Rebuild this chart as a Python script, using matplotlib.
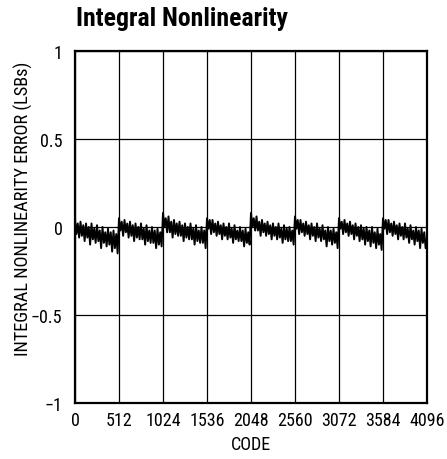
import numpy as np
import matplotlib
matplotlib.use("Agg")
import matplotlib.pyplot as plt

plt.rcParams['font.family'] = ['Liberation Sans Narrow', 'Roboto Condensed', 'Archivo Narrow', 'DejaVu Sans']

# INL, one value every 16 codes, per 512-code segment
seg0 = [0.04, -0.04, 0.02, -0.06, 0.03, -0.05, 0.01, -0.08, 0.02, -0.06, 0.00, -0.10, 0.02, -0.07, -0.01, -0.09,
        0.01, -0.08, -0.02, -0.12, 0.00, -0.09, -0.03, -0.11, -0.01, -0.10, -0.03, -0.14, -0.02, -0.12, -0.04, -0.15]
seg1 = [0.05, -0.02, 0.03, -0.05, 0.04, -0.03, 0.02, -0.06, 0.03, -0.05, 0.01, -0.08, 0.02, -0.06, 0.00, -0.07,
        0.02, -0.07, -0.01, -0.10, 0.01, -0.08, -0.02, -0.09, 0.00, -0.09, -0.02, -0.12, -0.01, -0.10, -0.03, -0.11]
seg2 = [0.08, 0.00, 0.05, -0.03, 0.06, -0.03, 0.03, -0.06, 0.04, -0.04, 0.02, -0.05, 0.03, -0.05, 0.01, -0.08,
        0.02, -0.06, 0.00, -0.07, 0.02, -0.07, -0.01, -0.10, 0.01, -0.08, -0.02, -0.09, 0.00, -0.09, -0.02, -0.12]
seg3 = [0.05, -0.01, 0.04, -0.04, 0.04, -0.03, 0.02, -0.05, 0.03, -0.04, 0.01, -0.07, 0.02, -0.05, 0.00, -0.07,
        0.02, -0.06, -0.01, -0.09, 0.01, -0.07, -0.02, -0.08, 0.00, -0.08, -0.02, -0.11, -0.01, -0.09, -0.03, -0.10]
seg4 = [0.08, 0.00, 0.05, -0.02, 0.06, -0.02, 0.03, -0.05, 0.04, -0.03, 0.02, -0.05, 0.03, -0.04, 0.01, -0.07,
        0.02, -0.05, 0.00, -0.07, 0.02, -0.06, -0.01, -0.09, 0.01, -0.07, -0.01, -0.08, 0.00, -0.08, -0.02, -0.10]
seg5 = [0.06, -0.01, 0.04, -0.04, 0.04, -0.03, 0.02, -0.05, 0.03, -0.04, 0.01, -0.07, 0.02, -0.05, 0.00, -0.08,
        0.02, -0.06, -0.01, -0.08, 0.01, -0.07, -0.02, -0.11, 0.00, -0.08, -0.02, -0.10, -0.01, -0.09, -0.03, -0.12]
seg6 = [0.05, -0.01, 0.03, -0.04, 0.04, -0.03, 0.02, -0.05, 0.03, -0.04, 0.01, -0.07, 0.02, -0.05, 0.00, -0.08,
        0.01, -0.07, -0.01, -0.10, 0.00, -0.08, -0.02, -0.11, 0.00, -0.09, -0.03, -0.12, -0.01, -0.10, -0.04, -0.13]
seg7 = [0.05, -0.01, 0.04, -0.04, 0.04, -0.03, 0.02, -0.05, 0.03, -0.04, 0.01, -0.07, 0.02, -0.05, 0.00, -0.07,
        0.02, -0.06, -0.01, -0.09, 0.01, -0.07, -0.02, -0.10, 0.00, -0.08, -0.02, -0.12, -0.01, -0.09, -0.03, -0.12]
last_value = -0.06

x_ticks = [0, 512, 1024, 1536, 2048, 2560, 3072, 3584, 4096]
x_tick_labels = ['0', '512', '1024', '1536', '2048', '2560', '3072', '3584', '4096']
y_ticks = [-1, -0.5, 0, 0.5, 1]
y_tick_labels = ['\u22121', '\u22120.5', '0', '0.5', '1']

inl = seg0 + seg1 + seg2 + seg3 + seg4 + seg5 + seg6 + seg7 + [last_value]
codes = np.arange(len(inl)) * 16

fig = plt.figure(figsize=(4.47, 4.60), dpi=100)
ax = fig.add_axes([75/447, 1 - 404/460, (427-75)/447, (404-52)/460])

ax.plot(codes, inl, color='black', lw=1.4, zorder=3)

ax.set_xlim(0, 4096)
ax.set_ylim(-1, 1)
ax.set_xticks(x_ticks)
ax.set_xticklabels(x_tick_labels)
ax.set_yticks(y_ticks)
ax.set_yticklabels(y_tick_labels)
ax.tick_params(length=0, labelsize=13, pad=6)
ax.tick_params(axis='y', pad=9)
ax.grid(True, color='black', lw=0.9)
for s in ax.spines.values():
    s.set_linewidth(1.6)

ax.set_xlabel('CODE', fontsize=13, labelpad=4)
fig.text(23/447, 1 - 209/460, 'INTEGRAL NONLINEARITY ERROR (LSBs)', rotation=90,
         ha='center', va='center', fontsize=13.2)
fig.text(76/447, 1 - 19/460, 'Integral Nonlinearity', fontsize=18.5, fontweight='bold',
         ha='left', va='center')

fig.savefig('out.png', dpi=100)
